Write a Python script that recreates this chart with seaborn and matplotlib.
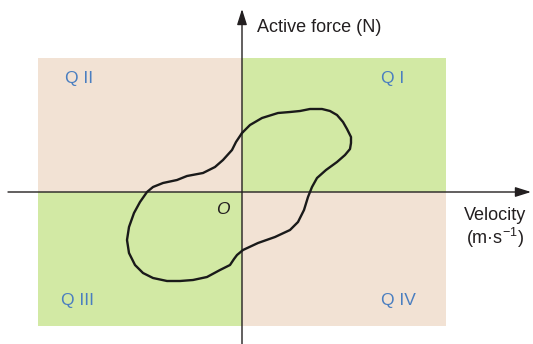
import numpy as np
import pandas as pd
import matplotlib
matplotlib.use("Agg")
import matplotlib.pyplot as plt
import seaborn as sns

# Force-velocity loop (arbitrary units, origin at axes crossing)
velocity = [0, 8, 20, 36, 48, 58, 68, 80, 88, 95,
            101, 105, 109, 109, 108, 103, 95, 84, 75, 70,
            66, 62, 56, 48, 33, 16, 1, -5, -8, -12,
            -22, -35, -49, -62, -75, -89, -99, -107, -113, -115,
            -113, -108, -102, -95, -89, -79, -65, -55, -39, -27,
            -19, -10, -6, 0]
force = [59, 67, 74, 79, 80, 81, 83, 83, 81, 77,
         70, 63, 55, 49, 43, 37, 30, 22, 14, 5,
         -5, -18, -30, -38, -45, -51, -58, -63, -67, -73,
         -78, -85, -88, -89, -89, -86, -81, -73, -61, -48,
         -35, -21, -10, 0, 5, 9, 12, 16, 19, 25,
         32, 42, 50, 59]

quadrant_names = ["Q I", "Q II", "Q III", "Q IV"]
quadrant_span = 204   # half width of the shaded block
quadrant_height = 134  # half height of the shaded block

GREEN = "#d2e9a4"
PEACH = "#f2e2d4"
BLUE = "#4a7ec0"
INK = "#231f20"

sns.set_theme(style="white")
plt.rcParams["font.family"] = ["Liberation Sans", "DejaVu Sans"]
plt.rcParams["mathtext.fontset"] = "custom"
plt.rcParams["mathtext.rm"] = "Liberation Sans"
plt.rcParams["mathtext.it"] = "Liberation Sans:italic"

fig = plt.figure(figsize=(5.33, 3.44), dpi=100)
ax = fig.add_axes([0, 0, 1, 1])

# quadrant shading
ax.fill_between([0, quadrant_span], 0, quadrant_height, color=GREEN, lw=0, zorder=0)
ax.fill_between([-quadrant_span, 0], 0, quadrant_height, color=PEACH, lw=0, zorder=0)
ax.fill_between([-quadrant_span, 0], -quadrant_height, 0, color=GREEN, lw=0, zorder=0)
ax.fill_between([0, quadrant_span], -quadrant_height, 0, color=PEACH, lw=0, zorder=0)

# axes with arrows
arrow = dict(arrowstyle="-|>,head_length=0.95,head_width=0.3", color=INK, lw=1.0,
             mutation_scale=10, shrinkA=0, shrinkB=0)
ax.annotate("", xy=(289, 0), xytext=(-234, 0), arrowprops=arrow, zorder=3)
ax.annotate("", xy=(0, 183), xytext=(0, -152), arrowprops=arrow, zorder=3)

# loop
loop = pd.DataFrame({"velocity": velocity, "force": force})
sns.lineplot(data=loop, x="velocity", y="force", sort=False, estimator=None,
             color="#1a1a1a", lw=1.7, ax=ax, zorder=4, solid_joinstyle="round")
ax.set_xlim(-242, 291)
ax.set_ylim(-152, 192)
ax.axis("off")

# quadrant labels
qx = [139, -177, -181, 139]
qy = [113, 113, -109, -109]
for name, x, y in zip(quadrant_names, qx, qy):
    ax.text(x, y, name, color=BLUE, fontsize=12.5, ha="left", va="center")

ax.text(-19, -17, "O", fontsize=12.5, style="italic", color=INK, ha="center", va="center")
ax.text(15, 165, "Active force (N)", fontsize=13, color=INK, ha="left", va="center")
ax.text(253, -23, "Velocity", fontsize=13, color=INK, ha="center", va="center")
ax.text(253, -46, "(m·s$^{-1}$)", fontsize=13, color=INK, ha="center", va="center")

fig.savefig("out.png", dpi=100)
